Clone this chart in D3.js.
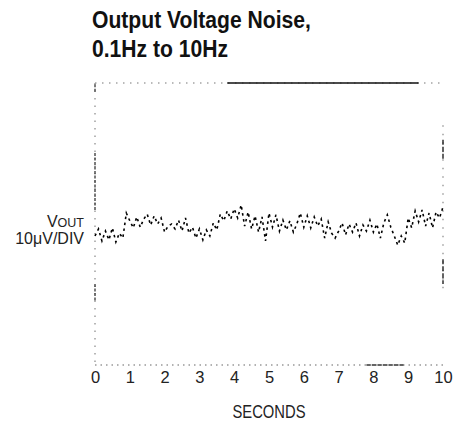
<!DOCTYPE html>
<html>
<head>
<meta charset="utf-8">
<script src="https://cdn.jsdelivr.net/npm/d3@7/dist/d3.min.js"></script>
<style>
  html, body { margin: 0; padding: 0; background: #fff; }
  svg { display: block; }
</style>
</head>
<body>
<svg id="chart" width="457" height="424"></svg>
<script>
// Title lines
const titleLines = ["Output Voltage Noise,", "0.1Hz to 10Hz"];

// Horizontal axis: seconds
const xTicks = [0, 1, 2, 3, 4, 5, 6, 7, 8, 9, 10];
const xLabel = "SECONDS";

// Noise trace, sampled every 0.1 s from 0 to 10 s (µV, 10µV per division)
const sampleStep = 0.1;
const noiseUV = [
  -3.4, -1.4, -4.8, -2.0, -4.5, -1.1, -5.1, -2.6, -4.0, 3.1,
  0.9, -1.1, 2.0, -0.9, 1.4, 2.8, -0.3, 2.3, 0.0, 1.7,
  -2.3, -0.6, 0.0, -1.4, 1.1, -2.0, 1.7, -2.6, -0.9, -4.0,
  -1.4, -4.5, -1.7, -3.4, 0.3, -1.7, 2.8, 0.9, 3.7, 1.4,
  4.3, 1.7, 5.4, -0.6, 3.4, -1.4, 2.3, -2.3, 2.0, -4.8,
  3.1, -0.9, 2.6, -2.0, 1.1, -1.7, 0.9, -2.3, 0.0, 3.1,
  -0.9, 2.3, -1.1, 2.0, -0.6, 1.4, -4.0, 0.6, -2.6, -4.0,
  -2.0, 0.3, -3.1, 0.0, -2.3, 0.3, -3.4, -0.3, -2.0, 1.1,
  -2.3, 0.0, -4.0, 0.3, 2.6, -0.9, -3.4, -6.0, -3.4, -5.4,
  1.7, -1.1, 3.7, 0.6, 4.0, -0.6, 3.1, -1.1, 3.4, 1.7, 4.8
];

// Screen extent in µV (8 divisions of 10µV)
const yDomain = [-40, 40];

// Solid stretches of the faint screen border (seconds along top/bottom, µV along the sides)
const topSolid = [[3.8, 9.3]];
const bottomSolid = [[7.8, 8.9]];
const rightSolid = [[18.5, 24], [-10, -17]];
const leftSolid = [[4, 20.5], [-17, -22], [37.5, 40]];

const svg = d3.select("#chart");
const x = d3.scaleLinear().domain([0, 10]).range([95, 443]);
const y = d3.scaleLinear().domain(yDomain).range([365, 83]);

const sans = "'Liberation Sans', Arial, Helvetica, sans-serif";

// Title (bold, horizontally condensed)
const title = svg.append("g").attr("transform", "translate(92,0) scale(0.88,1)");
title.append("text")
  .attr("font-family", sans)
  .attr("font-weight", "bold")
  .attr("font-size", 24)
  .attr("fill", "#111")
  .selectAll("tspan")
  .data(titleLines)
  .join("tspan")
  .attr("x", 0)
  .attr("y", (d, i) => 28 + i * 29)
  .text(d => d);

// Screen border: faint dotted outline with a few solid stretches
const border = svg.append("g").attr("fill", "none");
const x0 = x.range()[0], x1 = x.range()[1];
const yTop = y(yDomain[1]), yBot = y(yDomain[0]);

border.append("line")
  .attr("x1", x0).attr("x2", x1).attr("y1", yTop).attr("y2", yTop)
  .attr("stroke", "#777").attr("stroke-width", 1.2).attr("stroke-dasharray", "1.5,5.5");
border.append("line")
  .attr("x1", x0).attr("x2", x1).attr("y1", yBot).attr("y2", yBot)
  .attr("stroke", "#666").attr("stroke-width", 1.2).attr("stroke-dasharray", "1.5,4");
border.append("line")
  .attr("x1", x0).attr("x2", x0).attr("y1", yTop).attr("y2", yBot)
  .attr("stroke", "#888").attr("stroke-width", 1.2).attr("stroke-dasharray", "1.5,6");
border.append("line")
  .attr("x1", x1).attr("x2", x1).attr("y1", y(28)).attr("y2", y(-20))
  .attr("stroke", "#888").attr("stroke-width", 1.2).attr("stroke-dasharray", "1.5,7");

topSolid.forEach(([a, b]) => border.append("line")
  .attr("x1", x(a)).attr("x2", x(b)).attr("y1", yTop).attr("y2", yTop)
  .attr("stroke", "#111").attr("stroke-width", 1.6));
bottomSolid.forEach(([a, b]) => border.append("line")
  .attr("x1", x(a)).attr("x2", x(b)).attr("y1", yBot).attr("y2", yBot)
  .attr("stroke", "#333").attr("stroke-width", 1.3).attr("stroke-dasharray", "4,1.5"));
rightSolid.forEach(([a, b]) => border.append("line")
  .attr("x1", x1).attr("x2", x1).attr("y1", y(a)).attr("y2", y(b))
  .attr("stroke", "#222").attr("stroke-width", 1.4).attr("stroke-dasharray", "5,2"));
leftSolid.forEach(([a, b]) => border.append("line")
  .attr("x1", x0).attr("x2", x0).attr("y1", y(a)).attr("y2", y(b))
  .attr("stroke", "#444").attr("stroke-width", 1.4).attr("stroke-dasharray", "3,1.5"));

// Noise trace
const line = d3.line()
  .x((d, i) => x(i * sampleStep))
  .y(d => y(d));

svg.append("path")
  .datum(noiseUV)
  .attr("d", line)
  .attr("fill", "none")
  .attr("stroke", "#000")
  .attr("stroke-width", 1.6)
  .attr("stroke-dasharray", "2.5,3.5");

// Vertical scale label
const vLabel = svg.append("text")
  .attr("x", 84).attr("y", 227)
  .attr("text-anchor", "end")
  .attr("font-family", sans)
  .attr("font-size", 16)
  .attr("fill", "#222");
vLabel.append("tspan").text("V");
vLabel.append("tspan").attr("font-size", 12.5).text("OUT");

svg.append("text")
  .attr("x", 84).attr("y", 244)
  .attr("text-anchor", "end")
  .attr("font-family", sans)
  .attr("font-size", 16)
  .attr("fill", "#222")
  .text("10\u03bcV/DIV");

// Time axis
const xAxis = d3.axisBottom(x)
  .tickValues(xTicks)
  .tickSize(0)
  .tickPadding(0)
  .tickFormat(d3.format("d"));

const gx = svg.append("g")
  .attr("transform", "translate(0,383)")
  .call(xAxis);
gx.select(".domain").remove();
gx.selectAll("text")
  .attr("dy", 0)
  .attr("font-family", sans)
  .attr("font-size", 16.5)
  .attr("fill", "#222");

svg.append("text")
  .attr("x", (x0 + x1) / 2)
  .attr("y", 418)
  .attr("text-anchor", "middle")
  .attr("font-family", sans)
  .attr("font-size", 17.5)
  .attr("textLength", 73)
  .attr("lengthAdjust", "spacingAndGlyphs")
  .attr("fill", "#222")
  .text(xLabel);
</script>
</body>
</html>
